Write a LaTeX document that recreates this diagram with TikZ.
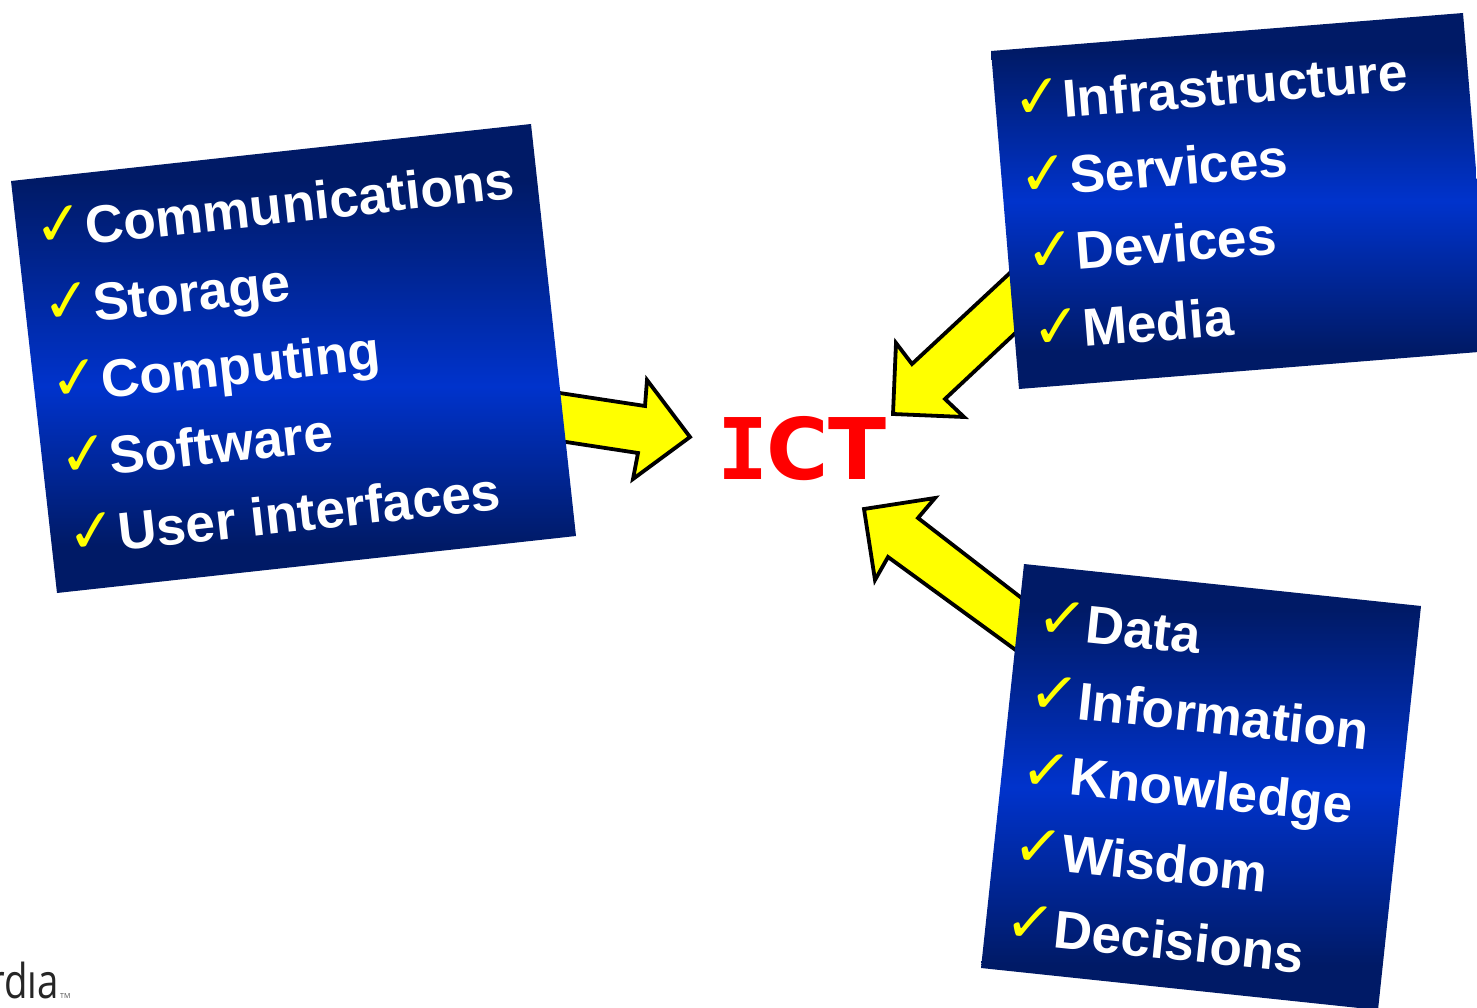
\documentclass[tikz,border=0pt]{standalone}
\usepackage{fontspec}
\setmainfont{Liberation Sans}
\newfontfamily\symfont{DejaVu Sans}
\newfontfamily\ictfont{DejaVu Sans}
\newfontfamily\ictmono{DejaVu Sans Mono}
\newfontfamily\logofont{Open Sans}
\definecolor{boxdark}{HTML}{001A66}
\definecolor{boxmid}{HTML}{0033CC}
\definecolor{arrowyellow}{HTML}{FFFF00}
\pgfdeclareverticalshading{panelleft}{100bp}{color(0bp)=(boxdark); color(30bp)=(boxdark); color(47bp)=(boxmid); color(69bp)=(boxdark); color(100bp)=(boxdark)}
\pgfdeclareverticalshading{panelright}{100bp}{color(0bp)=(boxdark); color(30bp)=(boxdark); color(50bp)=(boxmid); color(70bp)=(boxdark); color(100bp)=(boxdark)}
\tikzset{
  item/.style={anchor=base west,inner sep=0pt,text=white,font=\fontsize{53.2}{53}\selectfont\bfseries},
  tick/.style={anchor=base west,inner sep=0pt,text=arrowyellow,font=\symfont\fontsize{60}{60}\selectfont},
  blockarrow/.style={draw=black,line width=3.8pt,fill=arrowyellow,miter limit=8}
}
\begin{document}
\begin{tikzpicture}[x=1pt,y=-1pt]
\useasboundingbox (0,0) rectangle (1477,1008);
\begin{scope}
\clip (0,0) rectangle (1477,1008);
% block arrows
\draw[blockarrow] (540,390) -- (645,406) -- (647,380) -- (690,437) -- (633,479) -- (638,453) -- (540,438) -- cycle;
\draw[blockarrow] (1040,245) -- (912,364) -- (896,343) -- (893,414) -- (964,417) -- (945,399) -- (1040,310) -- cycle;
\draw[blockarrow] (1050,620) -- (918,518) -- (935,498) -- (864,509) -- (875,580) -- (888,557) -- (1050,675) -- cycle;
% panels
\shade[shading=panelleft] (11,181) -- (531,124) -- (576,536) -- (57,593) -- cycle;
\shade[shading=panelright] (991,51) -- (1463,13) -- (1491,351) -- (1019,389) -- cycle;
\shade[shading=panelright] (1024,564) -- (1421,606) -- (1378,1010) -- (981,968) -- cycle;
\end{scope}
% left panel
\begin{scope}[nodes={rotate=6.25}]
\node[item] (l1) at (87,245) {Communications};
\node[item] (l2) at (95,322) {Storage};
\node[item] (l3) at (103,399) {Computing};
\node[item] (l4) at (111,475) {Software};
\node[item] (l5) at (120,551) {User interfaces};
\node[tick] (lt1) at (36,248) {✓};
\node[tick] (lt2) at (44,325) {✓};
\node[tick] (lt3) at (52,402) {✓};
\node[tick] (lt4) at (61,478) {✓};
\node[tick] (lt5) at (69,555) {✓};
\end{scope}
% top right panel
\begin{scope}[nodes={rotate=4.6}]
\node[item] (r1) at (1064,118) {Infrastructure};
\node[item] (r2) at (1071,194) {Services};
\node[item] (r3) at (1077,270) {Devices};
\node[item] (r4) at (1084,347) {Media};
\node[tick] (rt1) at (1014,120) {✓};
\node[tick] (rt2) at (1020,197) {✓};
\node[tick] (rt3) at (1027,273) {✓};
\node[tick] (rt4) at (1033,350) {✓};
\end{scope}
% bottom right panel
\begin{scope}[nodes={rotate=-6}]
\node[item] (b1) at (1084,642) {Data};
\node[item] (b2) at (1076,719) {Information};
\node[item] (b3) at (1068,794) {Knowledge};
\node[item] (b4) at (1060,871) {Wisdom};
\node[item] (b5) at (1052,947) {Decisions};
\node[tick] (bt1) at (1035,636) {✓};
\node[tick] (bt2) at (1027,711) {✓};
\node[tick] (bt3) at (1019,788) {✓};
\node[tick] (bt4) at (1011,864) {✓};
\node[tick] (bt5) at (1003,940) {✓};
\end{scope}
\node[anchor=base west,inner sep=0pt,text=red,font=\ictfont\bfseries\fontsize{85}{85}\selectfont] (ict) at (717,479) {{\ictmono I}\kern-2pt CT};
\node[anchor=base east,inner sep=0pt,text=black!85,font=\logofont\fontsize{48}{48}\selectfont] (logo) at (59,998) {\scalebox{0.8}[1]{rdıa}};
\node[anchor=base west,inner sep=0pt,text=black!70,font=\logofont\fontsize{7}{7}\selectfont] (tm) at (60,998) {TM};
\end{tikzpicture}
\end{document}
